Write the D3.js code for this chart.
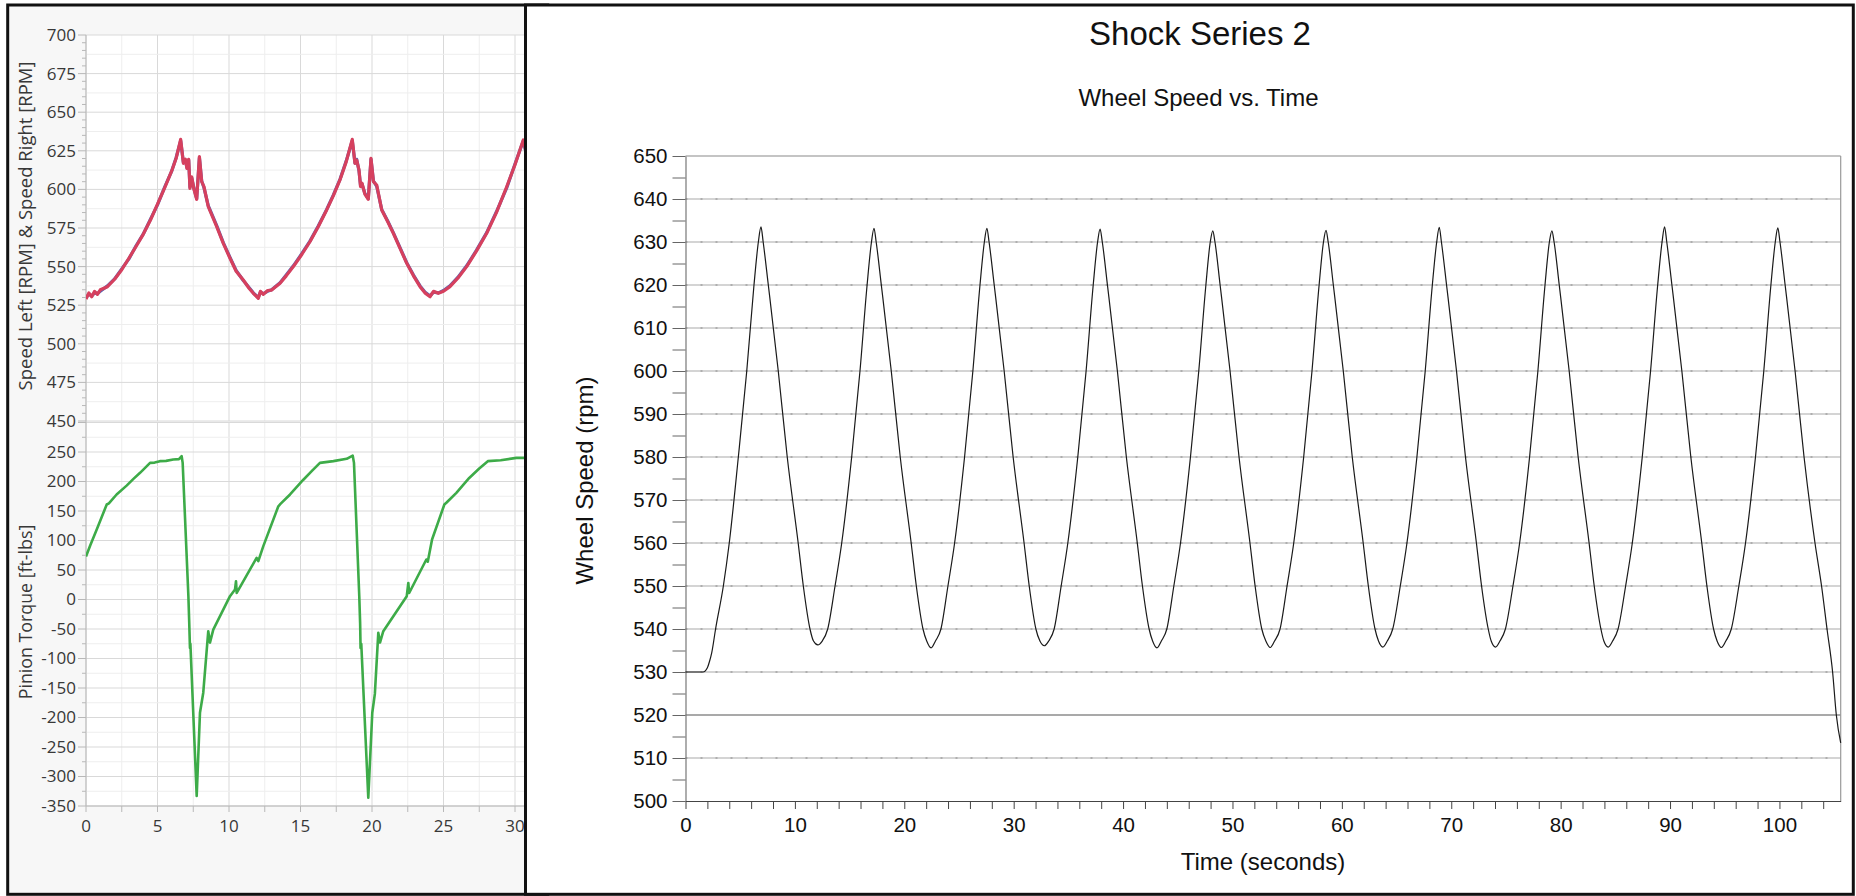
<!DOCTYPE html>
<html><head><meta charset="utf-8">
<script src="https://cdn.jsdelivr.net/npm/d3@7"></script>
<style>body{margin:0;background:#fff}svg{display:block}</style>
</head><body>
<svg id="c" width="1856" height="896"></svg>
<script>
// ---------- Left panel data ----------
const speedTime = [0,0.2,0.4,0.6,0.8,1.0,1.5,2.0,2.5,3.0,3.5,4.0,4.5,5.0,5.5,6.0,6.3,6.62,6.81,6.95,7.06,7.18,7.27,7.39,7.55,7.74,7.93,8.09,8.25,8.55,9.14,9.6,10.07,10.5,11.0,11.4,11.7,12.05,12.2,12.4,12.7,12.98,13.57,14.0,14.5,15.1,15.66,16.25,16.83,17.3,17.76,18.2,18.62,18.81,18.93,19.09,19.2,19.3,19.5,19.74,19.93,20.1,20.33,20.68,21.1,21.49,22.0,22.43,22.9,23.36,23.7,24.06,24.3,24.64,25.0,25.45,26.0,26.62,27.3,28.02,28.7,29.42,30.0,30.58,31.0];
const speedRight = [529,533,530.5,534,532,535,537,541.8,548,555.4,563,570.9,580,590.5,601,612.1,620,632.4,616.9,619.5,613.6,619.5,600.7,608.2,600,593.6,621.2,605,601.8,588.8,575.9,565,555.4,547,541.3,536,532.7,529.5,534,532,534.5,534.8,539.2,544,550,558,566.1,576,586.7,596,606.1,618,632.4,616.9,619,612.6,601.8,604,597,593.6,620.1,605,602.8,586.7,579,571.6,561,552.1,544,537,533,530.5,534,532.7,534,537,542.5,550,560,571.6,585,601.7,616,632,615];
const speedLeft  = [530,532,531,533,532.5,534,537.5,542,548.5,555,563.5,571,580.5,590,601.5,612,620.5,631.5,617.5,619,614,619,601.5,607.5,600.5,594,620.5,605.5,601,589.5,576.5,565.5,556,547.5,541,536.5,533,530,533.5,532.5,534,535,539.5,544.5,550.5,558.5,566.5,576.5,587,596.5,606.5,618.5,631.5,617,619.5,612,602.5,603.5,597.5,594,619.5,605.5,602,587,579.5,572,561.5,552.5,544.5,537.5,533.5,531,533.5,533,534.5,537.5,543,550.5,560.5,572,585.5,601,616.5,631.5,615];

const torqueTime = [0,0.3,0.75,1.1,1.45,1.6,2.14,2.84,3.3,3.78,4.48,4.8,5.17,5.6,6.1,6.5,6.69,6.76,7.16,7.22,7.27,7.3,7.74,7.97,8.2,8.55,8.67,8.9,10.07,10.42,10.49,10.54,11.93,12.05,12.4,13.45,13.6,14.27,15.2,15.8,16.36,17.3,18.23,18.65,18.74,19.11,19.17,19.2,19.25,19.74,20.02,20.2,20.44,20.56,20.79,22.43,22.54,22.6,23.8,23.9,24.2,25.06,25.2,25.9,26.8,27.5,28.1,29.0,30.1,31.0];
const torque = [73,92,118.6,140,161,163,178,193,204,214.7,231.6,232,234.5,235,237.3,238,243,231.6,5.6,-40,-82,-75,-333,-192,-158,-53.7,-73,-51,5.6,17,31,11.3,70.6,65,90.4,158,162,178,203,218,231.6,234.5,238.4,244,231.6,5.6,-40,-82,-75,-336,-192,-160,-56.5,-73,-53.7,5.6,28,11,67.8,64,101.7,161,164,180.8,206,222,234.5,236,240,240];

const speedTicks = [450,475,500,525,550,575,600,625,650,675,700];
const torqueTicks = [-350,-300,-250,-200,-150,-100,-50,0,50,100,150,200,250];
const leftTimeTicks = [0,5,10,15,20,25,30,35];

// ---------- Right panel data ----------
const wheelTime = [0,1.6,2.0,2.2,2.4,2.75,3.46,4.0,4.83,5.6,6.26,6.66,6.9,
7.1,7.57,8.48,9.3,10.3,10.77,11.38,11.7,12.1,12.5,13.0,13.67,14.28,15.19,15.95,16.6,17.0,17.23,
17.43,17.9,18.81,19.63,20.63,21.1,21.71,22.05,22.45,22.85,23.35,23.99,24.6,25.51,26.27,26.92,27.32,27.55,
27.75,28.22,29.13,29.95,30.95,31.42,32.03,32.4,32.8,33.2,33.7,34.34,34.95,35.86,36.62,37.27,37.67,37.9,
38.1,38.57,39.48,40.3,41.3,41.77,42.38,42.7,43.1,43.5,44.0,44.64,45.25,46.16,46.92,47.57,47.97,48.2,
48.4,48.87,49.78,50.6,51.6,52.07,52.68,53.05,53.45,53.85,54.35,54.99,55.6,56.51,57.27,57.92,58.32,58.55,
58.75,59.22,60.13,60.95,61.95,62.42,63.03,63.35,63.75,64.15,64.65,65.34,65.95,66.86,67.62,68.27,68.67,68.9,
69.1,69.57,70.48,71.3,72.3,72.77,73.38,73.65,74.05,74.45,74.95,75.64,76.25,77.16,77.92,78.57,78.97,79.2,
79.4,79.87,80.78,81.6,82.6,83.07,83.68,83.95,84.35,84.75,85.25,85.94,86.55,87.46,88.22,88.87,89.27,89.5,
89.7,90.17,91.08,91.9,92.9,93.37,93.98,94.3,94.7,95.1,95.6,96.29,96.9,97.81,98.57,99.22,99.62,99.85,
100.05,100.52,101.43,102.25,103.25,103.85,104.35,104.86,105.2,105.6];
const wheelSpeed = [530,530,531,532.5,534.5,540,550,560,580,600,620,630,633.5,
630,620,600,580,560,550,540,537.2,536.3,537.2,540,550,560,580,600,620,630,633.2,
630,620,600,580,560,550,540,537.2,535.6,537.2,540,550,560,580,600,620,630,633.2,
630,620,600,580,560,550,540,537.2,536.1,537.2,540,550,560,580,600,620,630,633.0,
630,620,600,580,560,550,540,537.2,535.6,537.2,540,550,560,580,600,620,630,632.6,
630,620,600,580,560,550,540,537.2,535.7,537.2,540,550,560,580,600,620,630,632.7,
630,620,600,580,560,550,540,537.2,535.8,537.2,540,550,560,580,600,620,630,633.4,
630,620,600,580,560,550,540,537.2,535.8,537.2,540,550,560,580,600,620,630,632.6,
630,620,600,580,560,550,540,537.2,535.8,537.2,540,550,560,580,600,620,630,633.5,
630,620,600,580,560,550,540,537.2,535.7,537.2,540,550,560,580,600,620,630,633.3,
630,620,600,580,560,550,540,530,520,513.5];

const wheelTicks = d3.range(500, 651, 5);
const wheelGrid = [510,520,530,540,550,560,570,580,590,600,610,620,630,640];
const timeTicks = d3.range(0, 105, 2);
const chartTitle = "Shock Series 2";
const chartSubtitle = "Wheel Speed vs. Time";

// ---------- Drawing ----------
const svg = d3.select("#c");
const LF = "'Open Sans','Noto Sans',sans-serif";
const AF = "'Liberation Sans',Arial,sans-serif";

svg.append("rect").attr("x",7.7).attr("y",5).attr("width",540).attr("height",889.3)
  .attr("fill","#f7f7f7");

const xL = d3.scaleLinear().domain([0,35]).range([86,86+35*14.3]);
const ySp = d3.scaleLinear().domain([450,700]).range([421,35]);
const yTq = d3.scaleLinear().domain([-350,300]).range([806,422.5]);

const defs = svg.append("defs");
defs.append("clipPath").attr("id","cpTop").append("rect").attr("x",86).attr("y",35).attr("width",440).attr("height",386);
defs.append("clipPath").attr("id","cpBot").append("rect").attr("x",86).attr("y",422.5).attr("width",440).attr("height",383.5);

function leftPlot(y, domain, minorStep, majorStep) {
  const g = svg.append("g");
  const [y0,y1] = domain;
  g.append("rect").attr("x",86).attr("y",y(y1)).attr("width",500).attr("height",y(y0)-y(y1)).attr("fill","#fff");
  const vMinor = d3.range(0,35.01,2.5);
  g.selectAll(null).data(vMinor).enter().append("line")
    .attr("x1",d=>xL(d)).attr("x2",d=>xL(d)).attr("y1",y(y1)).attr("y2",y(y0))
    .attr("stroke",d=>d%5===0?"#d9d9d9":"#eeeeee").attr("stroke-width",1);
  const hMinor = d3.range(y0, y1+0.01, minorStep);
  g.selectAll(null).data(hMinor).enter().append("line")
    .attr("x1",86).attr("x2",586).attr("y1",d=>y(d)).attr("y2",d=>y(d))
    .attr("stroke",d=>((d-y0)%majorStep===0)?"#d9d9d9":"#eeeeee").attr("stroke-width",1);
  return g;
}
leftPlot(ySp,[450,700],12.5,25);
leftPlot(yTq,[-350,300],25,50);

svg.append("line").attr("x1",86).attr("x2",86).attr("y1",35).attr("y2",806).attr("stroke","#b8b8b8");
svg.selectAll(null).data(d3.range(450,700.1,5)).enter().append("line")
  .attr("x1",d=>d%25===0?78:82).attr("x2",86).attr("y1",d=>ySp(d)).attr("y2",d=>ySp(d)).attr("stroke","#b8b8b8");
svg.selectAll(null).data(d3.range(-350,300.1,25)).enter().append("line")
  .attr("x1",d=>d%50===0?78:82).attr("x2",86).attr("y1",d=>yTq(d)).attr("y2",d=>yTq(d)).attr("stroke","#b8b8b8");
svg.append("line").attr("x1",86).attr("x2",586).attr("y1",806).attr("y2",806).attr("stroke","#b8b8b8");
svg.selectAll(null).data(d3.range(0,35.01,2.5)).enter().append("line")
  .attr("x1",d=>xL(d)).attr("x2",d=>xL(d)).attr("y1",806).attr("y2",812).attr("stroke","#b8b8b8");

svg.selectAll(null).data(speedTicks).enter().append("text")
  .attr("x",76).attr("y",d=>ySp(d)).attr("dy","0.35em").attr("text-anchor","end")
  .attr("font-family",LF).attr("font-size",17).attr("fill","#383838").text(d=>d);
svg.selectAll(null).data(torqueTicks).enter().append("text")
  .attr("x",76).attr("y",d=>yTq(d)).attr("dy","0.35em").attr("text-anchor","end")
  .attr("font-family",LF).attr("font-size",17).attr("fill","#383838").text(d=>String(d));
svg.selectAll(null).data(leftTimeTicks).enter().append("text")
  .attr("x",d=>xL(d)).attr("y",832).attr("text-anchor","middle")
  .attr("font-family",LF).attr("font-size",17).attr("fill","#383838").text(d=>d);

svg.append("text").attr("transform","translate(32,226) rotate(-90)").attr("text-anchor","middle")
  .attr("font-family",LF).attr("font-size",18.5).attr("fill","#383838").text("Speed Left [RPM] & Speed Right [RPM]");
svg.append("text").attr("transform","translate(32,612) rotate(-90)").attr("text-anchor","middle")
  .attr("font-family",LF).attr("font-size",17.8).attr("fill","#383838").text("Pinion Torque [ft-lbs]");

const lineSL = d3.line().x((d,i)=>xL(speedTime[i])).y(d=>ySp(d));
svg.append("path").attr("clip-path","url(#cpTop)").attr("d",lineSL(speedLeft))
  .attr("fill","none").attr("stroke","#5a64b0").attr("stroke-width",3.2).attr("stroke-linejoin","round");
svg.append("path").attr("clip-path","url(#cpTop)").attr("d",lineSL(speedRight))
  .attr("fill","none").attr("stroke","#d6405e").attr("stroke-width",3.2).attr("stroke-linejoin","round");
const lineTq = d3.line().x((d,i)=>xL(torqueTime[i])).y(d=>yTq(d));
svg.append("path").attr("clip-path","url(#cpBot)").attr("d",lineTq(torque))
  .attr("fill","none").attr("stroke","#3dab48").attr("stroke-width",2.6).attr("stroke-linejoin","round");

svg.append("rect").attr("x",7.7).attr("y",5).attr("width",540).attr("height",889.3)
  .attr("fill","none").attr("stroke","#111").attr("stroke-width",3);

// ---------- Right panel ----------
svg.append("rect").attr("x",525.5).attr("y",5).attr("width",1327.8).attr("height",889.3)
  .attr("fill","#fff").attr("stroke","#111").attr("stroke-width",3);

const xR = d3.scaleLinear().domain([0,105.6]).range([685.5,1840.7]);
const yR = d3.scaleLinear().domain([500,650]).range([801,156]);

const gg = svg.append("g");
gg.selectAll(null).data(wheelGrid).enter().append("line")
  .attr("x1",685.5).attr("x2",1840.7).attr("y1",d=>yR(d)).attr("y2",d=>yR(d))
  .attr("stroke",d=>d===520?"#555":"#c6c6c6").attr("stroke-width",d=>d===520?1.1:1.6);
gg.selectAll(null).data(wheelGrid.filter(d=>d!==520)).enter().append("line")
  .attr("x1",685.5).attr("x2",1840.7).attr("y1",d=>yR(d)).attr("y2",d=>yR(d))
  .attr("stroke","#888").attr("stroke-width",1).attr("stroke-dasharray","2 13");

svg.append("line").attr("x1",685.5).attr("x2",1840.7).attr("y1",156).attr("y2",156).attr("stroke","#8a8a8a").attr("stroke-width",1.2);
svg.append("line").attr("x1",1840.7).attr("x2",1840.7).attr("y1",156).attr("y2",801).attr("stroke","#999").attr("stroke-width",1.2);

const yAxis = d3.axisLeft(yR).tickValues(wheelTicks).tickSize(13).tickSizeOuter(0).tickPadding(5)
  .tickFormat(d=>d%10===0?d:"");
const gy = svg.append("g").attr("transform","translate(685.5,0)").call(yAxis);
gy.select(".domain").attr("stroke","#777").attr("stroke-width",1.2);
gy.selectAll(".tick line").attr("stroke","#666").attr("stroke-width",1);
gy.selectAll("text").attr("font-family",AF).attr("font-size",20.5).attr("fill","#111");

const xAxis = d3.axisBottom(xR).tickValues(timeTicks).tickSize(8).tickSizeOuter(0).tickPadding(8)
  .tickFormat(d=>d%10===0?d:"");
const gx = svg.append("g").attr("transform","translate(0,801)").call(xAxis);
gx.select(".domain").attr("stroke","#444").attr("stroke-width",1.2);
gx.selectAll(".tick line").attr("stroke","#444").attr("stroke-width",1);
gx.selectAll("text").attr("font-family",AF).attr("font-size",20.5).attr("fill","#111");

const lineW = d3.line().curve(d3.curveMonotoneX).x((d,i)=>xR(wheelTime[i])).y(d=>yR(d));
svg.append("path").attr("d",lineW(wheelSpeed)).attr("fill","none").attr("stroke","#1a1a1a").attr("stroke-width",1.2);

svg.append("text").attr("x",1200).attr("y",45).attr("text-anchor","middle")
  .attr("font-family",AF).attr("font-size",33).attr("fill","#111").text(chartTitle);
svg.append("text").attr("x",1198.5).attr("y",106).attr("text-anchor","middle")
  .attr("font-family",AF).attr("font-size",24).attr("fill","#111").text(chartSubtitle);
svg.append("text").attr("x",1263).attr("y",870).attr("text-anchor","middle")
  .attr("font-family",AF).attr("font-size",24).attr("fill","#111").text("Time (seconds)");
svg.append("text").attr("transform","translate(593,480.5) rotate(-90)").attr("text-anchor","middle")
  .attr("font-family",AF).attr("font-size",24).attr("fill","#111").text("Wheel Speed (rpm)");
</script>
</body></html>
